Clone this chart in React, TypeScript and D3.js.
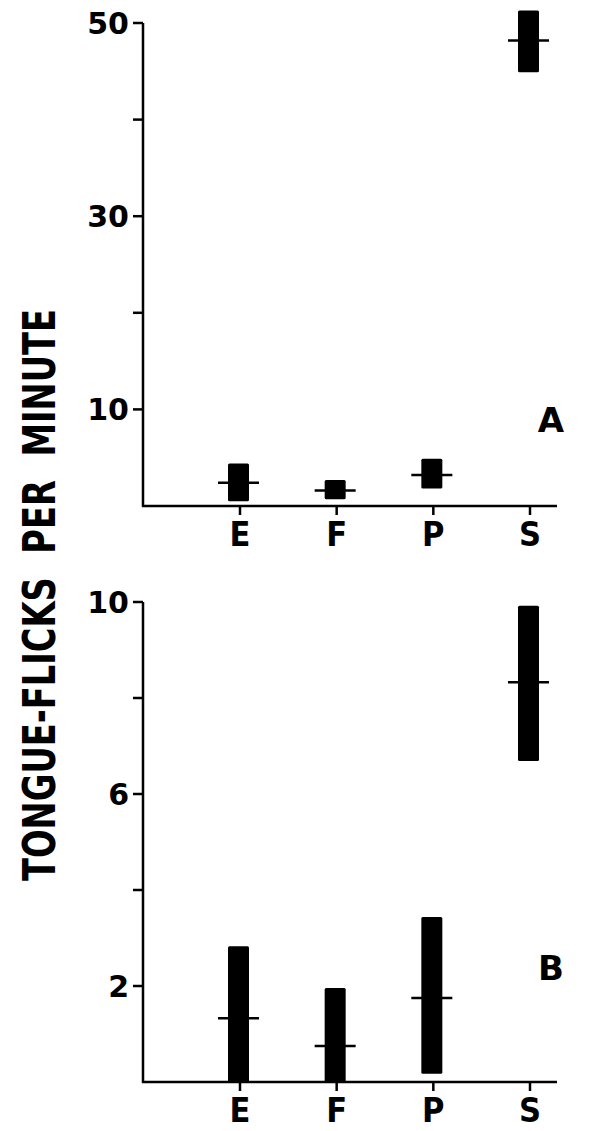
import React, { useEffect, useRef } from 'react';
import * as d3 from 'd3';

// stimulus categories
const categories = ['E', 'F', 'P', 'S'];

// panel A: tongue-flicks per minute (range high / low, median)
const panelAHigh = [4.4, 2.7, 4.9, 51.3];
const panelALow = [0.5, 0.7, 1.8, 44.9];
const panelAMedian = [2.4, 1.6, 3.2, 48.2];
const panelATicks = [10, 20, 30, 40, 50];
const panelALabels = [10, 30, 50];

// panel B
const panelBHigh = [2.83, 1.96, 3.44, 9.92];
const panelBLow = [0, 0, 0.17, 6.69];
const panelBMedian = [1.33, 0.75, 1.75, 8.33];
const panelBTicks = [2, 4, 6, 8, 10];
const panelBLabels = [2, 6, 10];

const yTitle = 'TONGUE-FLICKS  PER  MINUTE';
const panelNames = ['A', 'B'];

const heavy = "'DejaVu Sans', sans-serif";
const condensed = "'DejaVu Sans Condensed', 'DejaVu Sans', sans-serif";

const App = () => {
  const ref = useRef(null);

  useEffect(() => {
    const svg = d3.select(ref.current);
    svg.selectAll('*').remove();

    const axisX = 143;
    const axisEnd = 557;
    const x = d3.scalePoint().domain(categories).range([240, 530]);

    const panels = [
      { high: panelAHigh, low: panelALow, med: panelAMedian, ticks: panelATicks, labels: panelALabels, y: d3.scaleLinear().domain([0, 50]).range([506, 23]), name: panelNames[0], nameY: 420 },
      { high: panelBHigh, low: panelBLow, med: panelBMedian, ticks: panelBTicks, labels: panelBLabels, y: d3.scaleLinear().domain([0, 10]).range([1082, 602]), name: panelNames[1], nameY: 968 },
    ];

    panels.forEach((p) => {
      const g = svg.append('g');
      const y = p.y;
      const top = y(d3.max(p.ticks));
      const base = y(0);

      // y axis
      g.append('line')
        .attr('x1', axisX).attr('x2', axisX)
        .attr('y1', top).attr('y2', base + 1)
        .attr('stroke', '#000').attr('stroke-width', 2.5);
      g.selectAll('.ytick').data(p.ticks).enter().append('line')
        .attr('x1', axisX - 10).attr('x2', axisX)
        .attr('y1', (d) => y(d)).attr('y2', (d) => y(d))
        .attr('stroke', '#000').attr('stroke-width', 2.5);
      g.selectAll('.ylab').data(p.labels).enter().append('text')
        .attr('x', 129).attr('y', (d) => y(d))
        .attr('dy', '0.36em')
        .attr('text-anchor', 'end')
        .style('font-family', heavy).style('font-weight', 'bold').style('font-size', '30px')
        .text((d) => d);

      // x axis
      g.append('line')
        .attr('x1', axisX - 1).attr('x2', axisEnd)
        .attr('y1', base).attr('y2', base)
        .attr('stroke', '#000').attr('stroke-width', 2.5);
      g.selectAll('.xtick').data(categories).enter().append('line')
        .attr('x1', (d) => x(d)).attr('x2', (d) => x(d))
        .attr('y1', base).attr('y2', base + 9)
        .attr('stroke', '#000').attr('stroke-width', 2.5);
      g.selectAll('.xlab').data(categories).enter().append('text')
        .attr('x', (d) => x(d)).attr('y', base + 40)
        .attr('text-anchor', 'middle')
        .style('font-family', condensed).style('font-weight', 'bold').style('font-size', '34px')
        .text((d) => d);

      // range bars
      g.selectAll('.bar').data(categories).enter().append('rect')
        .attr('x', (d) => x(d) - 12)
        .attr('width', 21)
        .attr('y', (d, i) => y(p.high[i]))
        .attr('height', (d, i) => y(p.low[i]) - y(p.high[i]))
        .attr('rx', 1.5)
        .attr('fill', '#000');

      // medians
      g.selectAll('.med').data(categories).enter().append('line')
        .attr('x1', (d) => x(d) - 22).attr('x2', (d) => x(d) + 19)
        .attr('y1', (d, i) => y(p.med[i])).attr('y2', (d, i) => y(p.med[i]))
        .attr('stroke', '#000').attr('stroke-width', 2.5);

      g.append('text')
        .attr('x', 551).attr('y', p.nameY)
        .attr('dy', '0.36em')
        .attr('text-anchor', 'middle')
        .style('font-family', heavy).style('font-weight', 'bold').style('font-size', '34px')
        .text(p.name);
    });

    svg.append('text')
      .attr('transform', 'translate(55,595) rotate(-90)')
      .attr('text-anchor', 'middle')
      .attr('textLength', 572)
      .attr('lengthAdjust', 'spacingAndGlyphs')
      .style('font-family', condensed).style('font-weight', 'bold').style('font-size', '45px')
      .style('white-space', 'pre')
      .text(yTitle);

  // eslint-disable-next-line react-hooks/exhaustive-deps
  }, []);

  return (
    <svg ref={ref} width="604" height="1131" style={{ position: 'absolute', left: 0, top: 0, background: '#fff' }}></svg>
  );
};

export default App;
